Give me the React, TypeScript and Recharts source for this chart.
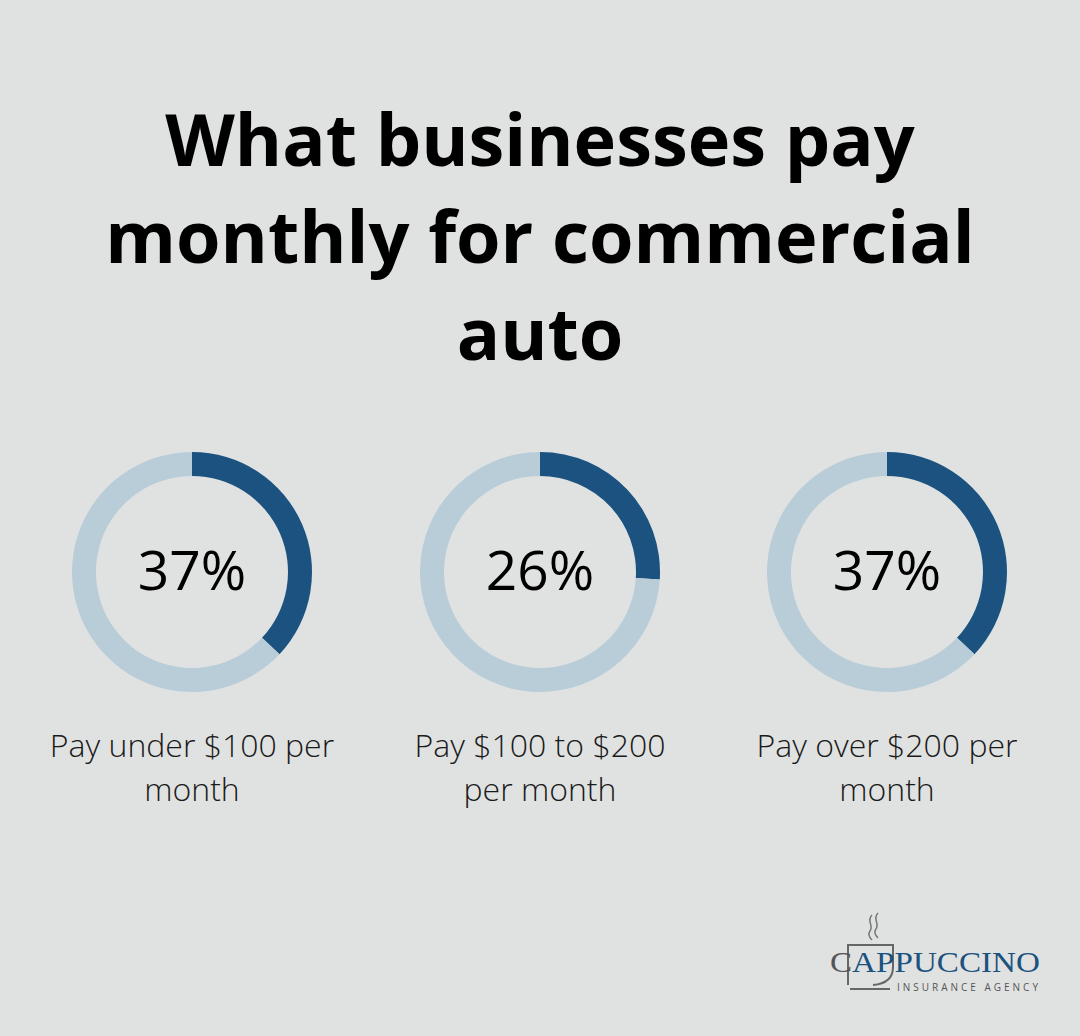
import { PieChart, Pie, Cell } from 'recharts';

const categories = ['Pay under $100 per month', 'Pay $100 to $200 per month', 'Pay over $200 per month'];
const labelLines = [
  ['Pay under $100 per', 'month'],
  ['Pay $100 to $200', 'per month'],
  ['Pay over $200 per', 'month'],
];
const shares = [37, 26, 37];
const centersX = [192, 540, 887];

const dark = '#1b527f';
const light = '#b9cdd9';
const bg = '#e0e2e1';
const font = '"Open Sans", "Noto Sans", sans-serif';
const serif = '"Liberation Serif", "DejaVu Serif", serif';

export default function App() {
  return (
    <div style={{ position: 'absolute', left: 0, top: 0, width: 1080, height: 1036, background: bg, fontFamily: font, overflow: 'hidden' }}>
      <div style={{ position: 'absolute', top: 90, left: 0, width: 1080, textAlign: 'center', fontSize: 72, fontWeight: 700, lineHeight: '97px', color: '#000' }}>
        What businesses pay<br />monthly for commercial<br />auto
      </div>

      <div style={{ position: 'absolute', left: 0, top: 0 }}>
        <PieChart width={1080} height={1036} margin={{ top: 0, right: 0, bottom: 0, left: 0 }}>
          {shares.map((s, i) => (
            <Pie
              key={categories[i]}
              data={[{ name: 'share', value: s }, { name: 'rest', value: 100 - s }]}
              dataKey="value"
              cx={centersX[i]}
              cy={572}
              innerRadius={96}
              outerRadius={120}
              startAngle={90}
              endAngle={-270}
              stroke="none"
              isAnimationActive={false}
            >
              <Cell fill={dark} />
              <Cell fill={light} />
            </Pie>
          ))}
        </PieChart>
      </div>

      {shares.map((s, i) => (
        <div key={'p' + i} style={{ position: 'absolute', left: centersX[i] - 120, top: 534, width: 240, textAlign: 'center', fontSize: 55, lineHeight: '70px', color: '#000' }}>
          {s}%
        </div>
      ))}

      {labelLines.map((lines, i) => (
        <div key={'l' + i} style={{ position: 'absolute', left: centersX[i] - 170, top: 723, width: 340, textAlign: 'center', fontSize: 32, fontWeight: 300, lineHeight: '44px', color: '#1a1a1a' }}>
          {lines[0]}<br />{lines[1]}
        </div>
      ))}

      <svg style={{ position: 'absolute', left: 820, top: 905 }} width={230} height={100}>
        <path d="M52 10 C46 16 54 20 50 26 C47 30 50 33 52 35" stroke="#777" strokeWidth={1.5} fill="none" />
        <path d="M58 8 C52 14 60 18 56 24 C53 28 56 31 58 33" stroke="#777" strokeWidth={1.5} fill="none" />
        <path d="M28 80 L28 40 L73 40 L73 62 C73 74 65 79 53 80" stroke="#666" strokeWidth={2} fill="none" />
        <line x1={30} y1={84} x2={70} y2={84} stroke="#666" strokeWidth={2} />
        <text x={10} y={67} fontFamily={serif} fontSize={30} textLength={210} lengthAdjust="spacingAndGlyphs">
          <tspan fill="#555">C</tspan>
          <tspan fill={dark}>APPUCCINO</tspan>
        </text>
        <text x={77} y={86} fontFamily={font} fontSize={10} textLength={141} fill="#555">INSURANCE AGENCY</text>
      </svg>
    </div>
  );
}
